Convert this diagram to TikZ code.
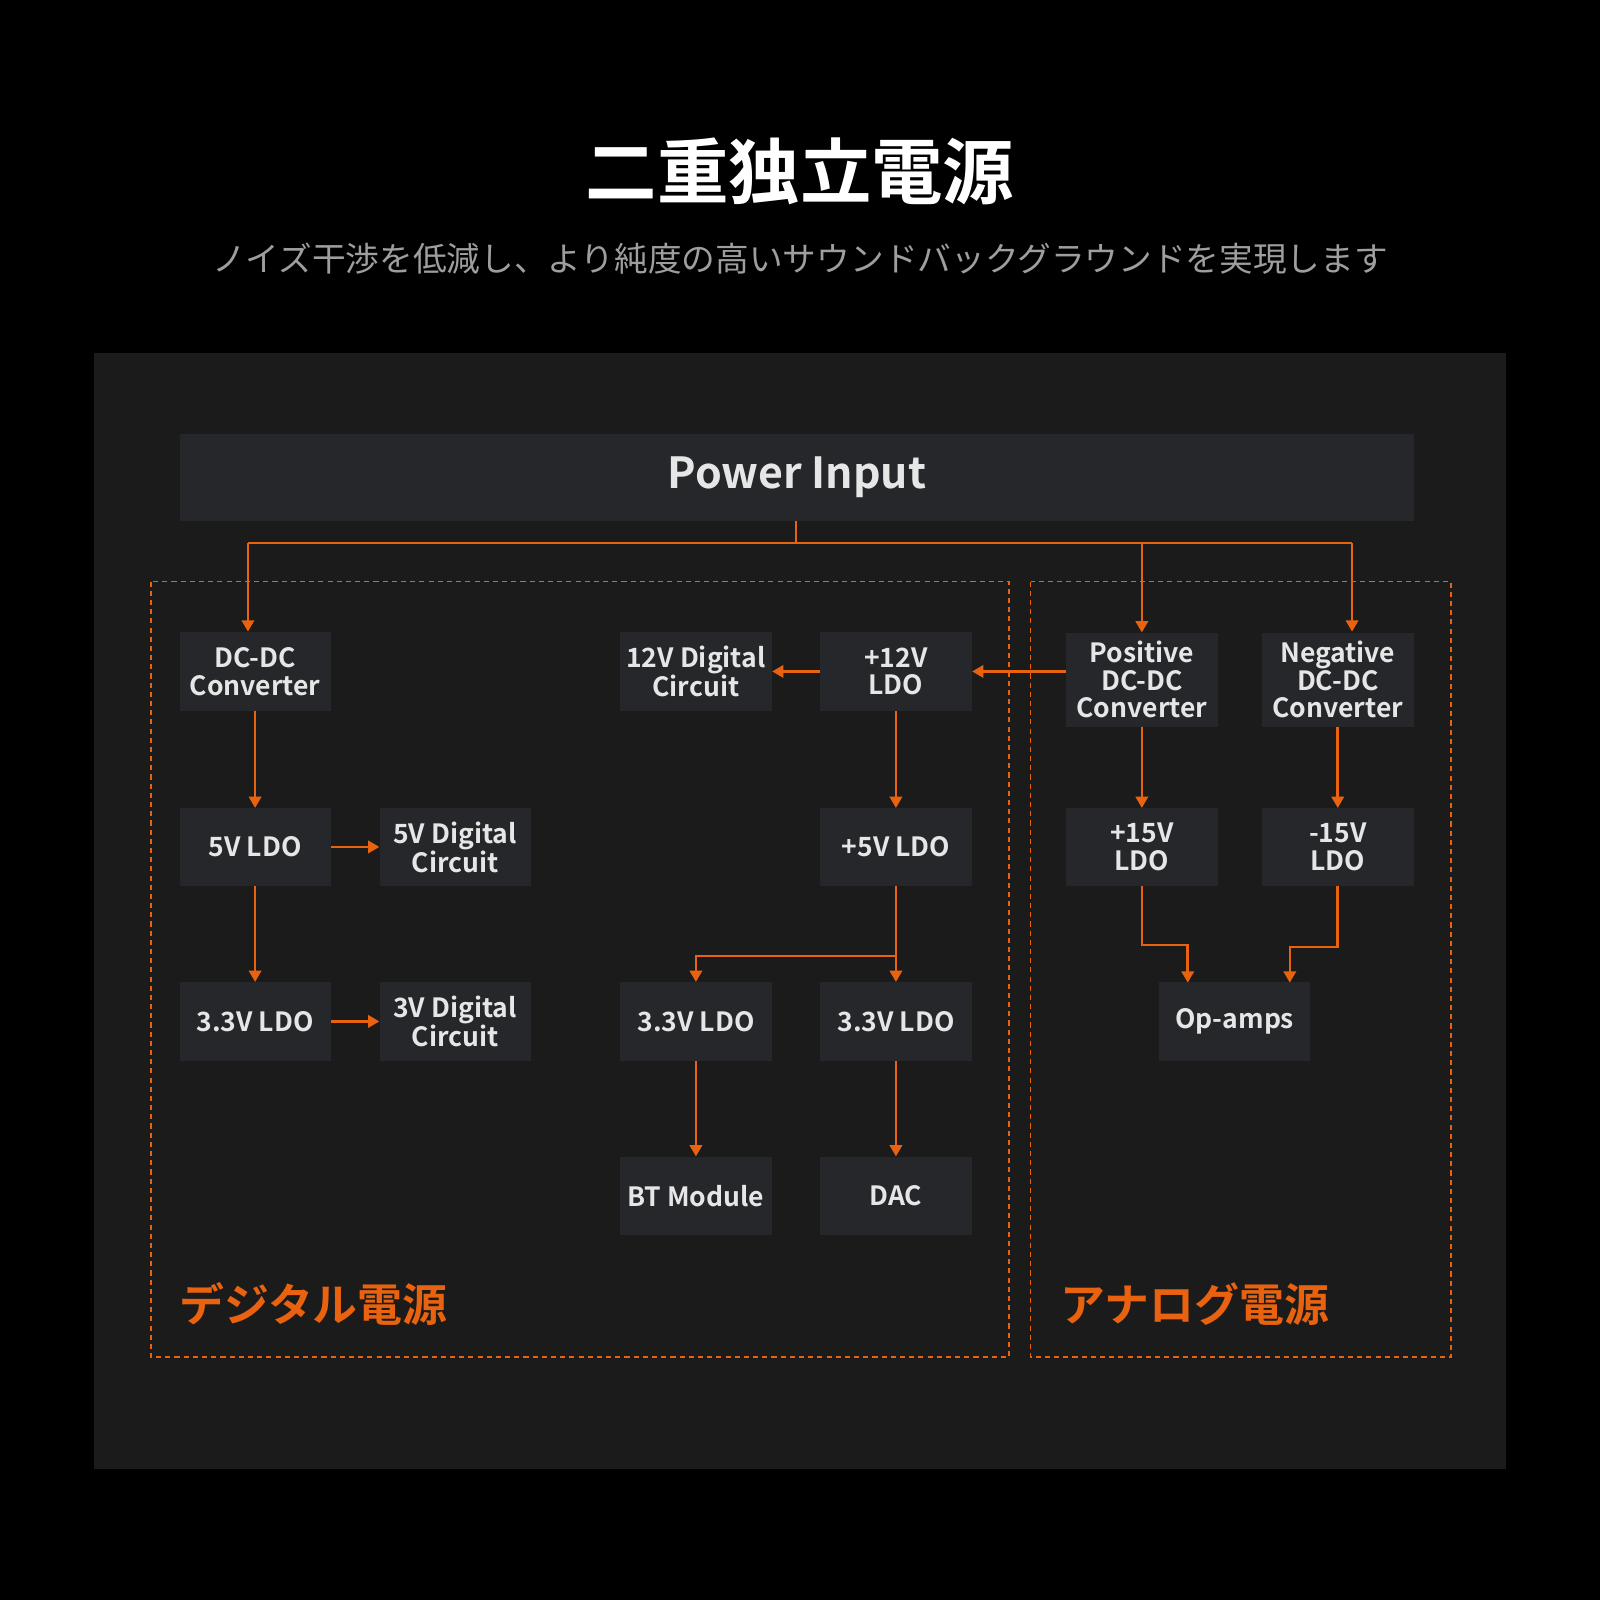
\documentclass[tikz,border=0pt]{standalone}
\usepackage{fontspec}
\setmainfont{Noto Sans CJK JP}[BoldFont={Noto Sans CJK JP Bold}]
\usetikzlibrary{arrows.meta}
\definecolor{org}{HTML}{E8620F}
\definecolor{panel}{HTML}{1B1B1B}
\definecolor{boxc}{HTML}{26272A}
\definecolor{txt}{HTML}{E6E6E6}
\begin{document}
\begin{tikzpicture}[x=1pt,y=-1pt,
  bx/.style={fill=boxc,text=txt,font=\bfseries\fontsize{26}{27}\selectfont,align=center,inner sep=0pt},
  ar/.style={draw=org,line width=2.5pt,-{Triangle[length=11pt,width=12pt]}},
  ln/.style={draw=org,line width=2.5pt},
  dbox/.style={draw=org,dashed,line width=1.6pt,dash pattern=on 5pt off 4pt}]
\fill[black] (0,0) rectangle (1568,1568);
\useasboundingbox (0,0) rectangle (1568,1568);
\fill[panel] (92,346) rectangle (1476,1440);
\node[text=white,font=\bfseries\fontsize{70}{72}\selectfont] (title) at (784,168) {二重独立電源};
\node[text=white!62!black,font=\fontsize{33}{35}\selectfont] (sub) at (784,253) {ノイズ干渉を低減し、より純度の高いサウンドバックグラウンドを実現します};
\node[bx,minimum width=1210pt,minimum height=85pt,font=\bfseries\fontsize{42}{44}\selectfont] (pin) at (781,468) {Power Input};
\draw[dbox] (148,570) rectangle (989,1330);
\draw[dbox] (1010,570) rectangle (1422,1330);
\newcommand{\bxn}[6]{\node[bx,minimum width=#4pt,minimum height=#5pt] (#1) at (#2,#3) {#6};}
\bxn{dcdc}{250}{658}{148}{77}{DC-DC\\Converter}
\bxn{d12}{682}{658}{149}{77}{12V Digital\\Circuit}
\bxn{l12}{878}{658}{149}{77}{+12V\\LDO}
\bxn{pos}{1119}{666}{149}{92}{Positive\\DC-DC\\Converter}
\bxn{neg}{1311}{666}{149}{92}{Negative\\DC-DC\\Converter}
\bxn{l5}{250}{830}{148}{76}{5V LDO}
\bxn{d5}{446}{830}{148}{76}{5V Digital\\Circuit}
\bxn{p5}{878}{830}{149}{76}{+5V LDO}
\bxn{p15}{1119}{830}{149}{76}{+15V\\LDO}
\bxn{m15}{1311}{830}{149}{76}{-15V\\LDO}
\bxn{l33}{250}{1001}{148}{77}{3.3V LDO}
\bxn{d3}{446}{1001}{148}{77}{3V Digital\\Circuit}
\bxn{a33}{682}{1001}{149}{77}{3.3V LDO}
\bxn{b33}{878}{1001}{149}{77}{3.3V LDO}
\bxn{op}{1210}{1001}{148}{77}{Op-amps}
\bxn{bt}{682}{1172}{149}{77}{BT Module}
\bxn{dac}{878}{1172}{149}{77}{DAC}
\coordinate (top) at (780,532);
\draw[ln] (pin.south -| top) -- (top);
\draw[ln] (243,532) -- (1325,532);
\draw[ar] (243,532) -- (243,619);
\draw[ar] (1119,532) -- (pos.north);
\draw[ar] (1325,532) -- (1325,619);
\draw[ar] (pos.west |- l12) -- (l12.east);
\draw[ar] (l12.west) -- (d12.east);
\draw[ar] (dcdc) -- (l5);
\draw[ar] (l5) -- (l33);
\draw[ar] (l5) -- (d5);
\draw[ar] (l33) -- (d3);
\draw[ar] (l12) -- (p5);
\draw[ar] (p5.south) -- (b33.north);
\draw[ar] (878,937) -- (682,937) -- (a33.north);
\draw[ar] (a33) -- (bt);
\draw[ar] (b33) -- (dac);
\draw[ar] (pos) -- (p15);
\draw[ar] (neg) -- (m15);
\draw[ar] (p15.south) -- (1119,926) -- (1164,926) -- (1164,963);
\draw[ar] (m15.south) -- (1311,928) -- (1264,928) -- (1264,963);
\node[text=org,font=\bfseries\fontsize{44}{46}\selectfont,anchor=west] (dl) at (172,1278) {デジタル電源};
\node[text=org,font=\bfseries\fontsize{44}{46}\selectfont,anchor=west] (al) at (1036,1278) {アナログ電源};
\end{tikzpicture}
\end{document}
